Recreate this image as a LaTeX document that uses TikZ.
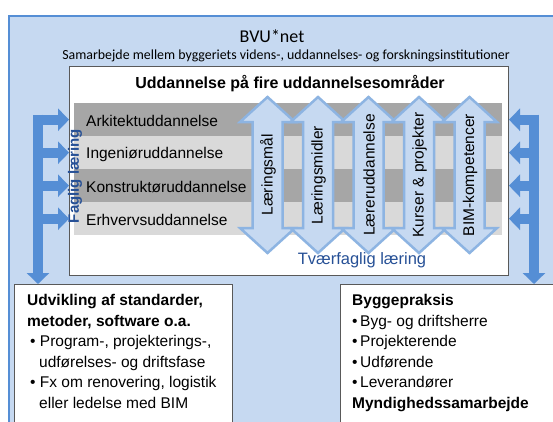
\documentclass[tikz,border=0pt]{standalone}
\usepackage{fontspec}
\setmainfont{Liberation Sans}
\newfontfamily\calibri{Carlito}
\usetikzlibrary{arrows.meta}
\usetikzlibrary{positioning}

\definecolor{netblue}{RGB}{198,217,241}
\definecolor{netline}{RGB}{85,142,213}
\definecolor{arrowline}{RGB}{141,180,226}
\definecolor{rowdark}{RGB}{166,166,166}
\definecolor{rowlight}{RGB}{217,217,217}
\definecolor{textblue}{RGB}{38,80,150}
\definecolor{boxline}{RGB}{89,89,89}

\tikzset{
  outerbox/.style={draw=netline, line width=2pt, fill=netblue, inner sep=0pt, anchor=north west},
  whitebox/.style={draw=boxline, line width=1pt, fill=white, inner sep=0pt, anchor=north west},
  rowbox/.style={inner sep=0pt, minimum width=428pt, minimum height=33pt, anchor=north west},
  rowtext/.style={font=\fontsize{15.5}{18}\selectfont, anchor=west, inner sep=0pt},
  dblarrow/.style={draw=arrowline, line width=2.5pt, fill=netblue},
  arrowtext/.style={font=\fontsize{15.5}{18}\selectfont, rotate=90, inner sep=0pt},
  bluearr/.style={draw=netline, line width=10pt, -{Triangle[length=11pt,width=22pt]}},
  bluetext/.style={text=textblue, font=\fontsize{16.5}{20}\selectfont, inner sep=0pt},
  listtext/.style={font=\fontsize{15.5}{20.6}\selectfont, align=left, anchor=north west, inner sep=0pt},
}

\begin{document}
\begin{tikzpicture}[x=1pt,y=-1pt]
        \useasboundingbox (0,0) rectangle (553,421);
        \clip (0,0) rectangle (553,421);

        % BVU*net frame
        \node[outerbox, minimum width=580pt, minimum height=440pt] (net) at (8,15) {};
        \node[font=\calibri\fontsize{18}{20}\selectfont] (nettitle) at (272,36) {BVU*net};
        \node[font=\calibri\fontsize{13.9}{16}\selectfont] (netsub) at (286,56) {Samarbejde mellem byggeriets videns-, uddannelses- og forskningsinstitutioner};

        % uddannelse
        \node[whitebox, minimum width=439pt, minimum height=209pt] (edu) at (69,66) {};
        \node[font=\bfseries\fontsize{16}{19}\selectfont] (edutitle) at (290,84) {Uddannelse på fire uddannelsesområder};

        \node[rowbox, fill=rowdark] (r1) at (74,103) {};
        \node[rowbox, fill=rowlight] (r2) at (74,136) {};
        \node[rowbox, fill=rowdark] (r3) at (74,169) {};
        \node[rowbox, fill=rowlight] (r4) at (74,202) {};

        \node[rowtext] (t1) at ([xshift=12pt,yshift=-1.5pt]r1.west) {Arkitektuddannelse};
        \node[rowtext] (t2) at ([xshift=12pt,yshift=-1.5pt]r2.west) {Ingeniøruddannelse};
        \node[rowtext] (t3) at ([xshift=12pt,yshift=-1.5pt]r3.west) {Konstruktøruddannelse};
        \node[rowtext] (t4) at ([xshift=12pt,yshift=-1.5pt]r4.west) {Erhvervsuddannelse};

        % tvaerfaglige pile
        \draw[dblarrow] (267.5,97) -- ++(27.5,25) -- ++(-12.5,0) -- ++(0,106) -- ++(12.5,0) -- ++(-27.5,25) -- ++(-27.5,-25) -- ++(12.5,0) -- ++(0,-106) -- ++(-12.5,0) -- cycle;
        \draw[dblarrow] (318,97) -- ++(27.5,25) -- ++(-12.5,0) -- ++(0,106) -- ++(12.5,0) -- ++(-27.5,25) -- ++(-27.5,-25) -- ++(12.5,0) -- ++(0,-106) -- ++(-12.5,0) -- cycle;
        \draw[dblarrow] (368.5,97) -- ++(27.5,25) -- ++(-12.5,0) -- ++(0,106) -- ++(12.5,0) -- ++(-27.5,25) -- ++(-27.5,-25) -- ++(12.5,0) -- ++(0,-106) -- ++(-12.5,0) -- cycle;
        \draw[dblarrow] (419,97) -- ++(27.5,25) -- ++(-12.5,0) -- ++(0,106) -- ++(12.5,0) -- ++(-27.5,25) -- ++(-27.5,-25) -- ++(12.5,0) -- ++(0,-106) -- ++(-12.5,0) -- cycle;
        \draw[dblarrow] (469.5,97) -- ++(27.5,25) -- ++(-12.5,0) -- ++(0,106) -- ++(12.5,0) -- ++(-27.5,25) -- ++(-27.5,-25) -- ++(12.5,0) -- ++(0,-106) -- ++(-12.5,0) -- cycle;

        \node[arrowtext] (a1) at (268,175) {Læringsmål};
        \node[arrowtext] (a2) at (318.5,175) {Læringsmidler};
        \node[arrowtext] (a3) at (369,175) {Læreruddannelse};
        \node[arrowtext] (a4) at (419.5,175) {Kurser \& projekter};
        \node[arrowtext] (a5) at (470,175) {BIM-kompetencer};

        \node[bluetext] (tvaer) at (362,260) {Tværfaglig læring};
        \node[bluetext, font=\bfseries\fontsize{15}{18}\selectfont, rotate=90] (faglig) at (75,176) {Faglig læring};

        % nederste kasser
        \node[whitebox, minimum width=218pt, minimum height=160pt] (dev) at (14,284) {};
        \node[whitebox, minimum width=230pt, minimum height=160pt] (prax) at (340,284) {};

        \node[listtext] (devtxt) at ([xshift=13pt,yshift=-10pt]dev.north west) {\textbf{Udvikling af standarder,}\\\textbf{metoder, software o.a.}\\\hspace*{3pt}•~Program-, projekterings-,\\\hspace*{12pt}udførelses- og driftsfase\\\hspace*{3pt}•~Fx om renovering, logistik\\\hspace*{12pt}eller ledelse med BIM};
        \node[listtext] (praxtxt) at ([xshift=12pt,yshift=-10pt]prax.north west) {\textbf{Byggepraksis}\\•\,Byg- og driftsherre\\•\,Projekterende\\•\,Udførende\\•\,Leverandører\\\textbf{Myndighedssamarbejde}};

        % faglig laering, venstre
        \coordinate (ltop) at (38,114.5);
        \draw[bluearr] (ltop) -- (ltop |- dev.north);
        \draw[bluearr] ([xshift=-5pt]ltop |- r1) -- (edu.west |- r1);
        \draw[bluearr] ([xshift=-5pt]ltop |- r2) -- (edu.west |- r2);
        \draw[bluearr] ([xshift=-5pt]ltop |- r3) -- (edu.west |- r3);
        \draw[bluearr] ([xshift=-5pt]ltop |- r4) -- (edu.west |- r4);

        % faglig laering, hoejre
        \coordinate (rtop) at (534,114.5);
        \draw[bluearr] (rtop) -- (rtop |- prax.north);
        \draw[bluearr] ([xshift=5pt]rtop |- r1) -- (edu.east |- r1);
        \draw[bluearr] ([xshift=5pt]rtop |- r2) -- (edu.east |- r2);
        \draw[bluearr] ([xshift=5pt]rtop |- r3) -- (edu.east |- r3);
        \draw[bluearr] ([xshift=5pt]rtop |- r4) -- (edu.east |- r4);

    \end{tikzpicture}
\end{document}
